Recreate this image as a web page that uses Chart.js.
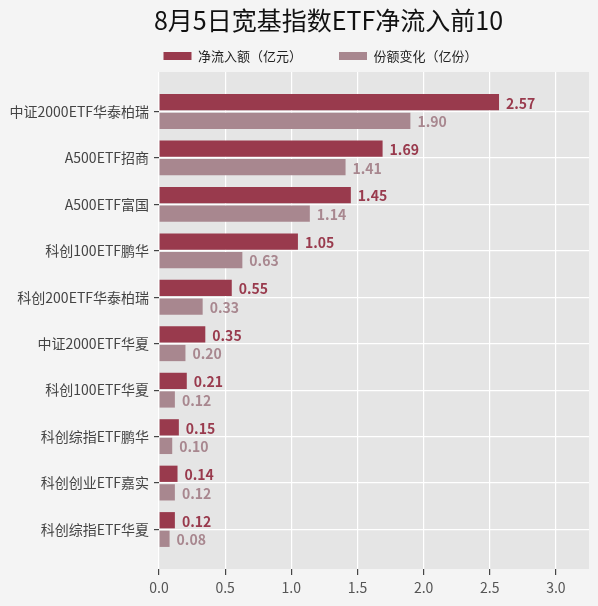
<!DOCTYPE html>
<html lang="zh-CN">
<head>
    <meta charset="UTF-8">
    <title>8月5日宽基指数ETF净流入前10</title>
    <script src="https://cdn.jsdelivr.net/npm/chart.js"></script>
    <style>
        html, body { margin: 0; padding: 0; background: #f4f4f4; }
        .wrap { width: 598px; height: 606px; }
    </style>
</head>
<body>
    <div class="wrap"><canvas id="chart"></canvas></div>

    <script>
        // 数据
        const categories = ['中证2000ETF华泰柏瑞', 'A500ETF招商', 'A500ETF富国', '科创100ETF鹏华', '科创200ETF华泰柏瑞',
            '中证2000ETF华夏', '科创100ETF华夏', '科创综指ETF鹏华', '科创创业ETF嘉实', '科创综指ETF华夏'];
        const netInflow = [2.57, 1.69, 1.45, 1.05, 0.55, 0.35, 0.21, 0.15, 0.14, 0.12];
        const shareChange = [1.90, 1.41, 1.14, 0.63, 0.33, 0.20, 0.12, 0.10, 0.12, 0.08];
        const xTicks = [0, 0.5, 1.0, 1.5, 2.0, 2.5, 3.0];

        const FONT = '"Noto Sans CJK SC", "Noto Sans", sans-serif';
        const DARK = '#993a4d';
        const LIGHT = '#a8878f';

        // 绘图区灰底
        const plotBg = {
            id: 'plotBg',
            beforeDraw(chart) {
                const a = chart.chartArea, ctx = chart.ctx;
                ctx.save();
                ctx.fillStyle = '#e5e5e5';
                ctx.fillRect(a.left, a.top, a.right - a.left, a.bottom - a.top);
                ctx.restore();
            }
        };

        // 标题和图例位置微调
        const header = {
            id: 'header',
            beforeLayout(chart) {
                const lg = chart.legend;
                if (lg && !lg.patched) {
                    const fit = lg.fit;
                    lg.fit = function () { fit.call(this); this.height = 37; };
                    lg.patched = true;
                }
            },
            afterLayout(chart) {
                const t = chart.titleBlock, lg = chart.legend;
                t.left += 34; t.right += 34;
                lg.left += 26; lg.right += 26;
                lg.top = 49.5 - lg.options.labels.padding;
            }
        };

        // 数值标签
        const valueLabels = {
            id: 'valueLabels',
            afterDatasetsDraw(chart) {
                const ctx = chart.ctx;
                ctx.save();
                ctx.font = 'bold 14px ' + FONT;
                ctx.textAlign = 'left';
                ctx.textBaseline = 'middle';
                chart.data.datasets.forEach((ds, i) => {
                    ctx.fillStyle = ds.backgroundColor;
                    chart.getDatasetMeta(i).data.forEach((bar, j) => {
                        ctx.fillText(ds.values[j].toFixed(2), bar.x + 7, bar.y + 1);
                    });
                });
                ctx.restore();
            }
        };

        new Chart(document.getElementById('chart'), {
            type: 'bar',
            data: {
                datasets: [{
                    label: '净流入额（亿元）',
                    values: netInflow,
                    data: netInflow.map((v, i) => ({ x: v, y: i })),
                    backgroundColor: DARK,
                    borderWidth: 0
                }, {
                    label: '份额变化（亿份）',
                    values: shareChange,
                    data: shareChange.map((v, i) => ({ x: v, y: i })),
                    backgroundColor: LIGHT,
                    borderWidth: 0
                }]
            },
            options: {
                indexAxis: 'y',
                responsive: true,
                maintainAspectRatio: false,
                animation: false,
                categoryPercentage: 0.8,
                barPercentage: 0.875,
                layout: { padding: { top: 0, right: 9, bottom: 0, left: 0 } },
                plugins: {
                    title: {
                        display: true,
                        text: '8月5日宽基指数ETF净流入前10',
                        color: '#111',
                        font: { family: FONT, size: 25, weight: 'normal' },
                        padding: { top: 5, bottom: 0 }
                    },
                    legend: {
                        display: true,
                        labels: {
                            boxWidth: 28,
                            boxHeight: 8,
                            padding: 37,
                            color: '#222',
                            font: { family: FONT, size: 13 }
                        }
                    },
                    tooltip: { enabled: false }
                },
                scales: {
                    x: {
                        type: 'linear',
                        min: 0,
                        max: 3.25,
                        afterBuildTicks: axis => { axis.ticks = xTicks.map(v => ({ value: v })); },
                        afterFit: axis => { axis.height = 37; },
                        ticks: {
                            callback: v => v.toFixed(1),
                            color: '#555',
                            font: { family: FONT, size: 14 },
                            padding: 4
                        },
                        grid: { color: '#ffffff', lineWidth: 1.2, tickColor: '#444', tickLength: 6 },
                        border: { display: false }
                    },
                    y: {
                        type: 'linear',
                        reverse: true,
                        offset: false,
                        min: -0.85,
                        max: 9.85,
                        afterBuildTicks: axis => { axis.ticks = categories.map((c, i) => ({ value: i })); },
                        afterFit: axis => { axis.width = 159; },
                        ticks: {
                            callback: v => categories[v],
                            color: '#444',
                            font: { family: FONT, size: 14 },
                            padding: 5
                        },
                        grid: { offset: false, color: '#ffffff', lineWidth: 1.2, tickColor: '#444', tickLength: 5 },
                        border: { display: false }
                    }
                }
            },
            plugins: [plotBg, header, valueLabels]
        });
    </script>
</body>
</html>
